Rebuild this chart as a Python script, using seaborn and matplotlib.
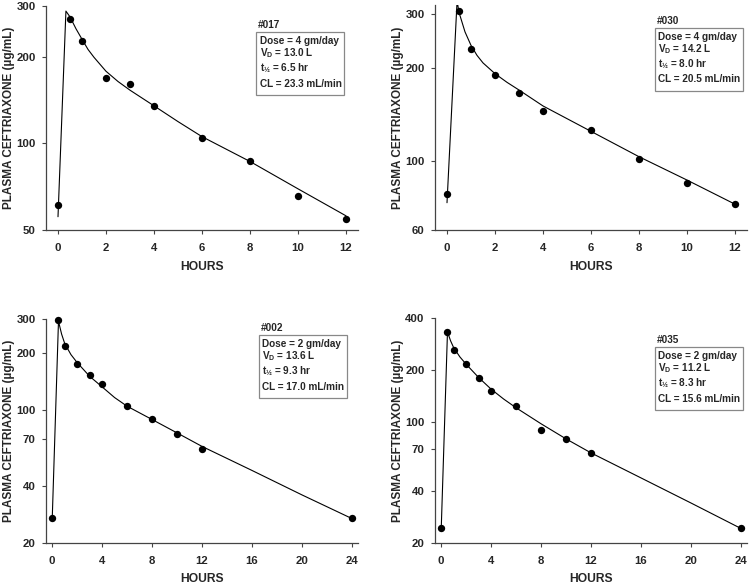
#!/usr/bin/env python3
import matplotlib
matplotlib.use("Agg")
import matplotlib.pyplot as plt
from matplotlib.patches import Rectangle
import seaborn as sns

# sampling times (hours)
HOURS_12 = [0, 0.5, 1, 2, 3, 4, 6, 8, 10, 12]
HOURS_24 = [0, 0.5, 1, 2, 3, 4, 6, 8, 10, 12, 24]

# patient #017
conc_017 = [61, 270, 227, 169, 161, 135, 104, 86.6, 65.8, 54.4]
fit_t_017 = [0, 0.33, 0.5, 0.75, 1, 1.25, 1.5, 2, 2.5, 3, 4, 5, 6, 8, 10, 12]
fit_c_017 = [55.6, 288, 275, 250, 230, 212, 199, 178, 164, 153, 135, 119, 105.5, 86.5, 69.5, 56]

# patient #030
conc_030 = [78.2, 307, 231, 190, 166, 145, 126, 102, 84.9, 72.9]
fit_t_030 = [0, 0.42, 0.5, 0.75, 1, 1.25, 1.5, 2, 2.5, 3, 4, 6, 8, 10, 12]
fit_c_030 = [73.5, 330, 303, 262, 237, 220, 208, 192, 180, 170, 151, 125, 103.5, 87, 72.7]

# patient #002
conc_002 = [26.9, 297, 216, 175, 153, 137, 104.5, 89.3, 74.5, 62.3, 26.9]
fit_t_002 = [0, 0.5, 0.75, 1, 1.5, 2, 3, 4, 5, 6, 8, 10, 12, 16, 20, 24]
fit_c_002 = [26.9, 292, 250, 223, 195, 177, 150, 132, 116, 104.5, 89, 75.7, 64.3, 48.1, 35.8, 26.9]

# patient #035
conc_035 = [24.3, 332, 262, 218, 180, 152, 124, 90.3, 80.4, 66.2, 24.3]
fit_t_035 = [0, 0.5, 0.75, 1, 1.5, 2, 3, 4, 5, 6, 8, 10, 12, 16, 20, 24]
fit_c_035 = [24.3, 332, 295, 269, 238, 216, 181, 155, 136, 121, 97.8, 80, 66.4, 47.6, 34.1, 24.3]

PANELS = [
    {"id": "#017", "hours": HOURS_12, "conc": conc_017, "fit_t": fit_t_017, "fit_c": fit_c_017,
     "info": ["Dose = 4 gm/day", "13.0 L", "6.5 hr", "CL = 23.3 mL/min"],
     "ylim": (50, 300), "yticks": [50, 100, 200, 300], "xlim": (-0.5, 12.5), "xticks": range(0, 13, 2),
     "rect": (46, 230, 312, 224), "box": (256, 32)},
    {"id": "#030", "hours": HOURS_12, "conc": conc_030, "fit_t": fit_t_030, "fit_c": fit_c_030,
     "info": ["Dose = 4 gm/day", "14.2 L", "8.0 hr", "CL = 20.5 mL/min"],
     "ylim": (60, 320), "yticks": [60, 100, 200, 300], "xlim": (-0.5, 12.5), "xticks": range(0, 13, 2),
     "rect": (435, 230, 312, 225), "box": (655, 28)},
    {"id": "#002", "hours": HOURS_24, "conc": conc_002, "fit_t": fit_t_002, "fit_c": fit_c_002,
     "info": ["Dose = 2 gm/day", "13.6 L", "9.3 hr", "CL = 17.0 mL/min"],
     "ylim": (20, 300), "yticks": [20, 40, 70, 100, 200, 300], "xlim": (-0.5, 24.5), "xticks": range(0, 25, 4),
     "rect": (46, 543, 312, 224), "box": (259, 335)},
    {"id": "#035", "hours": HOURS_24, "conc": conc_035, "fit_t": fit_t_035, "fit_c": fit_c_035,
     "info": ["Dose = 2 gm/day", "11.2 L", "8.3 hr", "CL = 15.6 mL/min"],
     "ylim": (20, 400), "yticks": [20, 40, 70, 100, 200, 400], "xlim": (-0.5, 24.5), "xticks": range(0, 25, 4),
     "rect": (435, 543, 312, 225), "box": (655, 347)},
]

W, H = 750, 586

sns.set_style("ticks")
plt.rcParams["font.family"] = ["Liberation Sans", "DejaVu Sans"]
plt.rcParams["font.weight"] = "bold"
plt.rcParams["mathtext.fontset"] = "custom"
plt.rcParams["mathtext.rm"] = "Liberation Sans:bold"
plt.rcParams["mathtext.bf"] = "Liberation Sans:bold"
plt.rcParams["mathtext.it"] = "Liberation Sans:bold"

fig = plt.figure(figsize=(W / 100, H / 100), dpi=100)
fig.patch.set_facecolor("white")


def px(x, y):
    return x / W, 1 - y / H


for p in PANELS:
    left, bottom, width, height = p["rect"]
    ax = fig.add_axes([left / W, 1 - bottom / H, width / W, height / H])
    sns.lineplot(x=p["fit_t"], y=p["fit_c"], sort=False, estimator=None, color="black",
                 linewidth=0.8, ax=ax)
    sns.scatterplot(x=p["hours"], y=p["conc"], color="black", s=28, edgecolor="black",
                    linewidth=0, ax=ax, zorder=3, clip_on=False)
    ax.set_yscale("log")
    ax.set_ylim(*p["ylim"])
    ax.set_xlim(*p["xlim"])
    ax.set_yticks(p["yticks"])
    ax.set_yticklabels([str(v) for v in p["yticks"]])
    ax.yaxis.set_minor_locator(matplotlib.ticker.NullLocator())
    ax.set_xticks(list(p["xticks"]))
    ax.set_xticklabels([str(v) for v in p["xticks"]])
    sns.despine(ax=ax)
    for side in ("left", "bottom"):
        ax.spines[side].set_color("#444444")
        ax.spines[side].set_linewidth(0.9)
    ax.tick_params(axis="both", length=3, width=0.8, color="#444444", labelsize=8.2)
    ax.tick_params(axis="y", pad=4.5)
    ax.tick_params(axis="x", pad=6)
    for lbl in ax.get_xticklabels() + ax.get_yticklabels():
        lbl.set_fontweight("bold")
    ax.set_xlabel("HOURS", fontsize=8.7, fontweight="bold", va="center")
    ax.set_ylabel("PLASMA CEFTRIAXONE (µg/mL)", fontsize=8.5, fontweight="bold", va="center")
    ax.xaxis.set_label_coords(0.5, -36.5 / height)
    ax.yaxis.set_label_coords(-37 / width, 0.5)

    # parameter box
    bx, by = p["box"]
    fig.patches.append(Rectangle(px(bx, by + 63), 88 / W, 63 / H, transform=fig.transFigure,
                                 facecolor="white", edgecolor="#888888", linewidth=0.9))
    fig.text(*px(bx + 2, by - 7), p["id"], fontsize=7.2, fontweight="bold", va="center", ha="left")
    dose, vd, thalf, cl = p["info"]
    lines = [dose, r"V$_\mathbf{D}$ = " + vd, r"t$_\mathbf{½}$ = " + thalf, cl]
    for dy, text in zip([9, 21.5, 36, 51.5], lines):
        fig.text(*px(bx + 3.5, by + dy), text, fontsize=7.2, fontweight="bold", va="center", ha="left")

fig.savefig("out.png", dpi=100)
